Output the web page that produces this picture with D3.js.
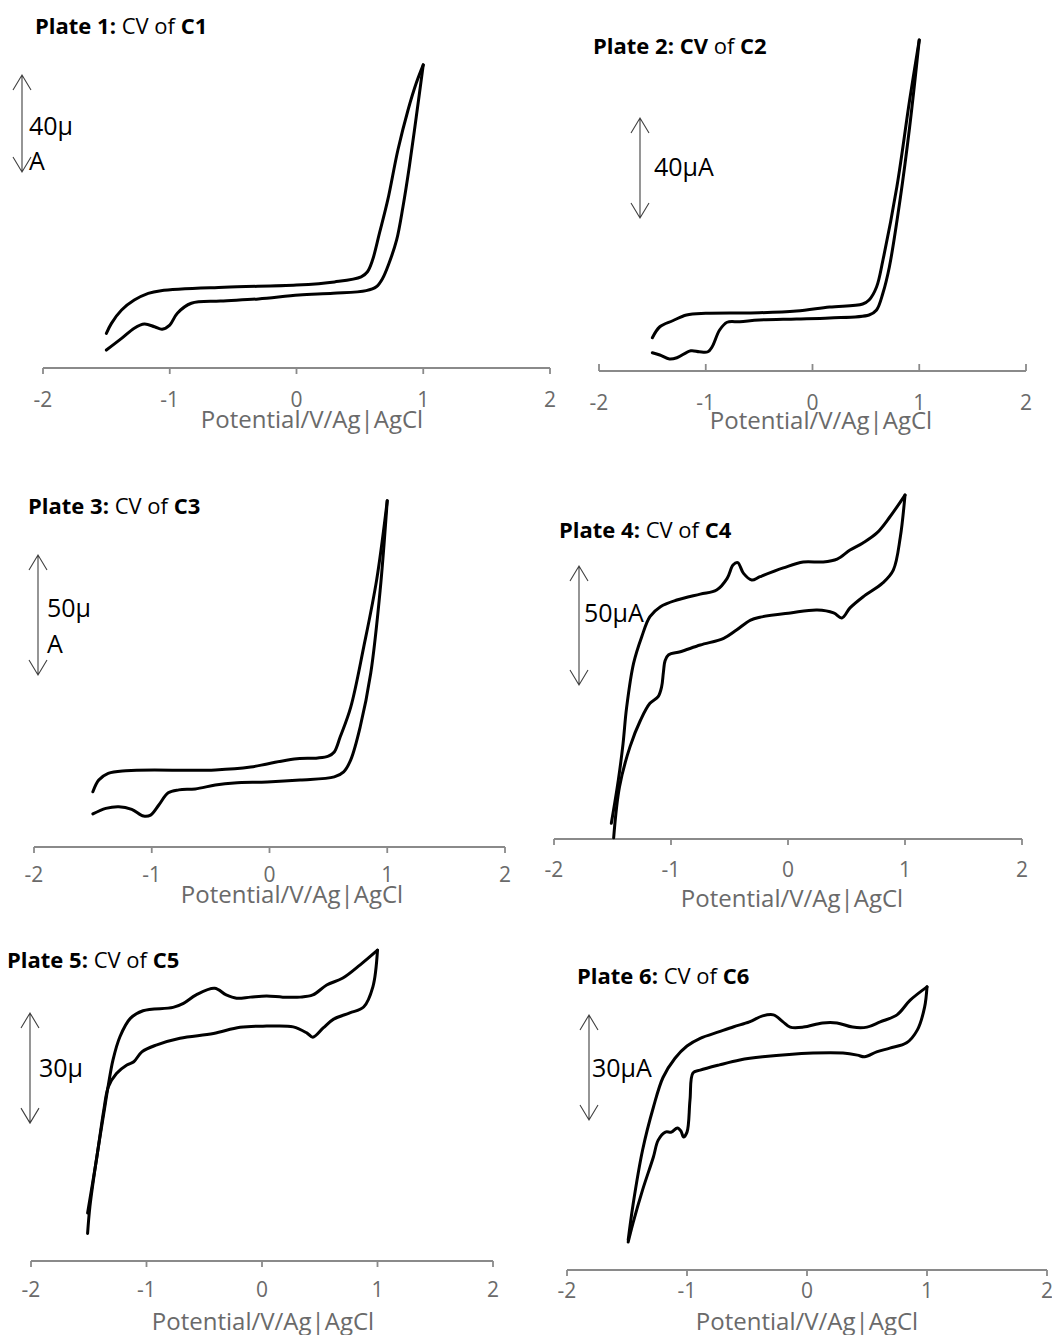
<!DOCTYPE html>
<html><head><meta charset="utf-8">
<script src="https://cdn.jsdelivr.net/npm/d3@7"></script>
<style>
body{margin:0;background:#fff}
svg{display:block}
text{font-family:"Segoe UI","Open Sans",sans-serif}
</style>
</head><body>
<svg id="chart" width="1052" height="1335"></svg>
<script>
// ---------- data ----------
const xTicks = [-2, -1, 0, 1, 2];
const plateNames = ["C1", "C2", "C3", "C4", "C5", "C6"];
const scaleBarUA = [40, 40, 50, 50, 30, 30];
const scaleBarText = [["40µ", "A"], ["40µA"], ["50µ", "A"], ["50µA"], ["30µ"], ["30µA"]];
const axisTitle = "Potential/V/Ag|AgCl";

// [potential (V), current (µA above baseline)]
const c1Upper = [[-1.50,14.3],[-1.46,18.4],[-1.38,23.9],[-1.28,28.0],[-1.17,30.8],[-1.07,31.9],[-0.57,33.3],[0,34.2],[0.3,35.5],[0.51,37.6],[0.56,39.7],[0.60,44.5],[0.655,55.7],[0.72,69.3],[0.80,89.9],[0.88,106.4],[0.945,117.5],[1.0,125]];
const c1Lower = [[-1.50,7.4],[-1.38,12.2],[-1.28,16.4],[-1.2,18.1],[-1.12,17.0],[-1.06,16.0],[-1.0,17.7],[-0.94,22.6],[-0.83,26.7],[-0.6,27.6],[-0.3,28.5],[0.02,30.1],[0.29,30.8],[0.55,31.9],[0.63,33.5],[0.68,37.0],[0.73,43.2],[0.79,52.8],[0.84,66.5],[0.89,83.0],[0.945,103.6],[1.0,125]];

const c2Upper = [[-1.50,13.3],[-1.43,17.7],[-1.31,20.1],[-1.18,22.4],[-1.0,23.1],[-0.5,23.3],[-0.15,24.0],[0.16,25.6],[0.47,26.8],[0.53,28.4],[0.6,33.6],[0.66,44.4],[0.79,73.6],[0.91,108.4],[1.0,132.4]];
const c2Lower = [[-1.50,7.3],[-1.43,6.4],[-1.34,4.8],[-1.27,5.3],[-1.14,8.1],[-1.06,7.7],[-0.98,7.7],[-0.94,9.7],[-0.87,16.4],[-0.80,19.5],[-0.68,19.7],[-0.5,20.4],[-0.15,20.8],[0.16,21.2],[0.53,22.4],[0.6,24.4],[0.66,31.2],[0.72,41.6],[0.82,68.4],[0.91,97.6],[1.0,132.4]];

const c3Upper = [[-1.50,23.0],[-1.45,27.9],[-1.37,30.7],[-1.22,31.8],[-0.46,32.1],[-0.16,33.3],[-0.02,34.6],[0.21,36.7],[0.41,37.1],[0.5,37.9],[0.55,39.6],[0.6,45.8],[0.69,58.3],[0.8,83.3],[0.91,111.3],[1.0,144.3]];
const c3Lower = [[-1.50,13.8],[-1.39,16.1],[-1.28,16.8],[-1.17,15.7],[-1.07,12.9],[-1.01,13.3],[-0.94,17.5],[-0.86,22.6],[-0.77,23.8],[-0.63,24.2],[-0.46,25.8],[-0.3,26.7],[-0.02,27.1],[0.26,27.9],[0.55,29.2],[0.63,31.3],[0.69,36.3],[0.77,50.0],[0.86,72.5],[0.94,107.1],[1.0,144.3]];

const c4Upper = [[-1.51,6.6],[-1.45,24.8],[-1.41,40],[-1.38,55],[-1.32,73.8],[-1.25,85],[-1.18,93.4],[-1.09,97.6],[-0.95,100.4],[-0.75,102.9],[-0.61,104.6],[-0.52,109.5],[-0.47,115.1],[-0.43,116.1],[-0.38,111.6],[-0.31,108.8],[-0.24,110.2],[-0.04,113.9],[0.13,116.4],[0.3,116.4],[0.42,117.6],[0.53,121.4],[0.64,124.4],[0.76,128.6],[0.87,135.3],[1.0,144.5]];
const c4Lower = [[-1.49,0.5],[-1.44,22],[-1.35,38.8],[-1.26,50],[-1.18,57],[-1.11,59.8],[-1.08,64],[-1.065,70],[-1.05,75],[-1.02,77.4],[-0.92,78.7],[-0.75,81.5],[-0.55,84.3],[-0.44,87.8],[-0.32,92],[-0.24,93.2],[0.02,95],[0.25,96.2],[0.39,95],[0.46,92.9],[0.53,97.1],[0.64,101.7],[0.81,107.6],[0.9,113],[0.96,126.9],[1.0,144.5]];

const c5Upper = [[-1.51,7.5],[-1.49,14.8],[-1.43,28.4],[-1.37,40.2],[-1.33,48],[-1.29,54.8],[-1.23,61.1],[-1.14,66.1],[-1.03,68.2],[-0.77,69.1],[-0.68,70.2],[-0.57,72.5],[-0.41,74.3],[-0.31,72.5],[-0.22,71.6],[-0.1,71.9],[0.04,72.2],[0.18,71.9],[0.33,71.9],[0.44,72.5],[0.56,75.2],[0.7,77.1],[0.85,80.7],[1.0,84.7]];
const c5Lower = [[-1.51,13.1],[-1.43,28.3],[-1.37,41.1],[-1.33,47.5],[-1.26,51.1],[-1.17,53.4],[-1.11,54.3],[-1.04,57.0],[-0.91,58.9],[-0.71,60.7],[-0.42,62.0],[-0.19,63.7],[0.04,64.0],[0.27,63.8],[0.39,62.1],[0.44,61.0],[0.53,63.5],[0.62,65.9],[0.76,67.6],[0.88,69.2],[0.96,74.7],[1.0,84.7]];

const c6Upper = [[-1.49,8.6],[-1.45,18.6],[-1.37,34.3],[-1.28,46.5],[-1.2,55],[-1.1,60.5],[-1.0,64],[-0.89,66.2],[-0.73,68.1],[-0.61,69.5],[-0.48,70.9],[-0.37,72.6],[-0.28,72.9],[-0.2,70.9],[-0.14,69.4],[-0.03,69.4],[0.13,70.6],[0.25,70.6],[0.38,69.4],[0.5,69.4],[0.61,70.9],[0.75,72.9],[0.86,77.1],[1.0,80.9]];
const c6Lower = [[-1.49,8.0],[-1.45,13.4],[-1.37,22.9],[-1.28,32.3],[-1.24,37.1],[-1.18,39.4],[-1.13,39.4],[-1.08,40.6],[-1.05,39.7],[-1.03,38.0],[-1.0,39.4],[-0.975,48.6],[-0.95,56.3],[-0.89,57.1],[-0.73,58.6],[-0.56,60.0],[-0.37,60.9],[0.05,62.0],[0.3,62.0],[0.42,61.4],[0.48,60.9],[0.58,62.3],[0.69,63.4],[0.83,64.9],[0.92,68.6],[0.98,75.1],[1.0,80.9]];

const curves = [[c1Upper, c1Lower], [c2Upper, c2Lower], [c3Upper, c3Lower], [c4Upper, c4Lower], [c5Upper, c5Lower], [c6Upper, c6Lower]];

// ---------- layout ----------
const layout = [
  {x0:43, x1:550, axisY:368, k:2.425, tick:6, lblY:407, atX:312, atY:428, tX:35, tY:34, boldCV:false, arX:22, arTop:75, sX:29, sY:[135,170]},
  {x0:599, x1:1026, axisY:371, k:2.5, tick:-7, lblY:410, atX:821, atY:429, tX:593, tY:54, boldCV:true, arX:640, arTop:118, sX:654, sY:[176]},
  {x0:34, x1:505, axisY:847, k:2.4, tick:6, lblY:882, atX:292, atY:903, tX:28, tY:514, boldCV:false, arX:38, arTop:555, sX:47, sY:[617,653]},
  {x0:554, x1:1022, axisY:839, k:2.38, tick:6, lblY:877, atX:792, atY:907, tX:559, tY:538, boldCV:false, arX:579, arTop:566, sX:584, sY:[622]},
  {x0:31, x1:493, axisY:1261, k:3.67, tick:6, lblY:1297, atX:263, atY:1330, tX:7, tY:968, boldCV:false, arX:30, arTop:1013, sX:39, sY:[1077]},
  {x0:567, x1:1047, axisY:1270, k:3.5, tick:6, lblY:1298, atX:807, atY:1330, tX:577, tY:984, boldCV:false, arX:589, arTop:1015, sX:592, sY:[1077]}
];

const svg = d3.select("#chart");
const axisColor = "#8a8a8a", labelColor = "#6a6a6a";

layout.forEach((L, i) => {
  const g = svg.append("g");
  const x = d3.scaleLinear().domain([-2, 2]).range([L.x0, L.x1]);
  const y = d3.scaleLinear().domain([0, 100]).range([L.axisY, L.axisY - 100 * L.k]);

  // axis
  g.append("line").attr("x1", x(-2)).attr("x2", x(2)).attr("y1", L.axisY).attr("y2", L.axisY)
    .attr("stroke", axisColor).attr("stroke-width", 1.8);
  g.selectAll(".tk").data(xTicks).enter().append("line")
    .attr("x1", d => x(d)).attr("x2", d => x(d))
    .attr("y1", L.axisY).attr("y2", L.axisY + L.tick)
    .attr("stroke", axisColor).attr("stroke-width", 1.8);
  g.selectAll(".tl").data(xTicks).enter().append("text")
    .attr("x", d => x(d)).attr("y", L.lblY).attr("text-anchor", "middle")
    .attr("font-size", 21).attr("fill", labelColor).text(d => String(d));
  g.append("text").attr("x", L.atX).attr("y", L.atY).attr("text-anchor", "middle")
    .attr("font-size", 24).attr("fill", labelColor).text(axisTitle);

  // curves
  const line = d3.line().x(d => x(d[0])).y(d => y(d[1])).curve(d3.curveCatmullRom.alpha(0.5));
  curves[i].forEach(branch => {
    g.append("path").attr("d", line(branch)).attr("fill", "none")
      .attr("stroke", "#000").attr("stroke-width", 3).attr("stroke-linejoin", "round").attr("stroke-linecap", "round");
  });

  // title
  const t = g.append("text").attr("x", L.tX).attr("y", L.tY).attr("font-size", 22).attr("fill", "#000");
  t.append("tspan").attr("font-weight", "bold").text(`Plate ${i + 1}:` + (L.boldCV ? " CV" : ""));
  t.append("tspan").text(L.boldCV ? " of " : " CV of ");
  t.append("tspan").attr("font-weight", "bold").text(plateNames[i]);

  // scale bar (double arrow, length = scaleBarUA in current units)
  const len = y(0) - y(scaleBarUA[i]);
  const top = L.arTop, bot = L.arTop + len, ax = L.arX;
  const hw = 9, hl = 15;
  g.append("path")
    .attr("d", `M${ax},${top}L${ax},${bot}M${ax - hw},${top + hl}L${ax},${top}L${ax + hw},${top + hl}M${ax - hw},${bot - hl}L${ax},${bot}L${ax + hw},${bot - hl}`)
    .attr("fill", "none").attr("stroke", "#404040").attr("stroke-width", 1.1);
  scaleBarText[i].forEach((s, j) => {
    g.append("text").attr("x", L.sX).attr("y", L.sY[j]).attr("font-size", 25).attr("fill", "#000").text(s);
  });
});
</script>
</body></html>
